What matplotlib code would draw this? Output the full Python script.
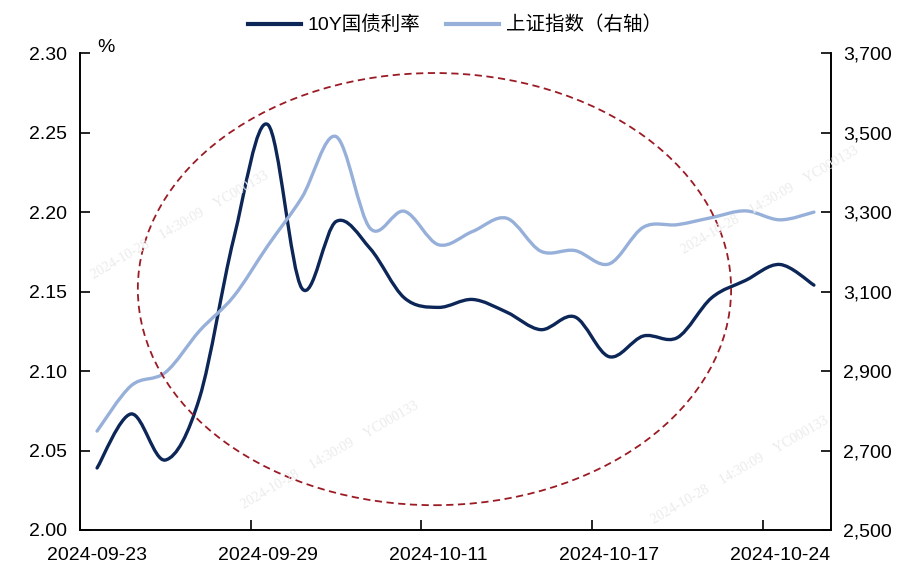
import numpy as np
import matplotlib
matplotlib.use('Agg')
import matplotlib.pyplot as plt
from matplotlib.path import Path
from matplotlib.patches import PathPatch, Ellipse
from matplotlib.lines import Line2D
import matplotlib.ticker as ticker

# trading days 2024-09-23 .. 2024-10-25 (incl. 9/29 and 10/12 make-up days)
dates = ['2024-09-23', '2024-09-24', '2024-09-25', '2024-09-26', '2024-09-27',
         '2024-09-29', '2024-09-30', '2024-10-08', '2024-10-09', '2024-10-10',
         '2024-10-11', '2024-10-12', '2024-10-14', '2024-10-15', '2024-10-16',
         '2024-10-17', '2024-10-18', '2024-10-21', '2024-10-22', '2024-10-23',
         '2024-10-24', '2024-10-25']
bond_10y = [2.039, 2.073, 2.044, 2.083, 2.183, 2.255, 2.152, 2.194, 2.177, 2.146,
            2.140, 2.145, 2.137, 2.126, 2.134, 2.109, 2.122, 2.121, 2.146, 2.157,
            2.167, 2.154]
sh_index = [2748.9, 2863.1, 2896.3, 3000.9, 3087.5, 3215.0, 3336.5, 3489.8, 3258.9,
            3301.9, 3217.7, 3251.0, 3284.3, 3201.3, 3203.0, 3169.4, 3261.6, 3268.1,
            3285.9, 3302.8, 3280.3, 3299.7]
tick_idx = [0, 5, 10, 15, 20]
tick_labels = [dates[i] for i in tick_idx]
legend_labels = ['10Y国债利率', '上证指数（右轴）']

dark = '#0c2658'
light = '#97b0da'
red = '#9b1b25'


def smooth_path(x, y):
    # catmull-rom style smoothing, like excel "smoothed line"
    x = np.asarray(x, float)
    y = np.asarray(y, float)
    px = np.concatenate([[x[0]], x, [x[-1]]])
    py = np.concatenate([[y[0]], y, [y[-1]]])
    verts = [(x[0], y[0])]
    codes = [Path.MOVETO]
    for i in range(1, len(px) - 2):
        c1 = (px[i] + (px[i + 1] - px[i - 1]) / 6, py[i] + (py[i + 1] - py[i - 1]) / 6)
        c2 = (px[i + 1] - (px[i + 2] - px[i]) / 6, py[i + 1] - (py[i + 2] - py[i]) / 6)
        verts += [c1, c2, (px[i + 1], py[i + 1])]
        codes += [Path.CURVE4] * 3
    return Path(verts, codes)


plt.rcParams['font.family'] = ['Liberation Sans', 'Noto Sans CJK SC', 'DejaVu Sans']

fig = plt.figure(figsize=(9.16, 5.87), dpi=100)
ax = fig.add_axes([80 / 916, 1 - 530 / 587, 751 / 916, 477 / 587])
ax2 = ax.twinx()

x = np.arange(len(dates)) + 0.5
ax.add_patch(PathPatch(smooth_path(x, bond_10y), fill=False, edgecolor=dark,
                       lw=2.4, capstyle='round', joinstyle='round'))
ax2.add_patch(PathPatch(smooth_path(x, sh_index), fill=False, edgecolor=light,
                        lw=2.4, capstyle='round', joinstyle='round'))

ax.set_xlim(0, len(dates))
ax.set_ylim(2.0, 2.3)
ax2.set_ylim(2500, 3700)
ax.set_yticks(np.arange(2.0, 2.301, 0.05))
ax.yaxis.set_major_formatter(ticker.FormatStrFormatter('%.2f'))
ax2.set_yticks(np.arange(2500, 3701, 200))
ax2.yaxis.set_major_formatter(ticker.FuncFormatter(lambda v, p: '{:,.0f}'.format(v)))
# tick marks on category boundaries, labels on category centres
ax.set_xticks(tick_idx)
ax.set_xticklabels([''] * len(tick_idx))
ax.set_xticks([i + 0.5 for i in tick_idx], minor=True)
ax.set_xticklabels(tick_labels, minor=True)

for a in (ax, ax2):
    a.spines['top'].set_visible(False)
    for s in a.spines.values():
        s.set_linewidth(1.2)
    a.tick_params(direction='in', length=7, width=1.2, labelsize=14, pad=9)
ax.tick_params(axis='x', which='minor', length=0, labelsize=14, pad=12)

ax2.add_patch(Ellipse((0.472, 0.505), 0.79, 0.906, transform=ax.transAxes,
                      fill=False, edgecolor=red, lw=1.3, ls=(0, (4, 2.5))))

fig.text(97 / 916, 1 - 47 / 587, '%', fontsize=14, va='center', ha='left')

handles = [Line2D([], [], color=dark, lw=3), Line2D([], [], color=light, lw=3)]
fig.legend(handles, legend_labels, loc='center', bbox_to_anchor=(455 / 916, 1 - 25 / 587),
           ncol=2, frameon=False, fontsize=14, handlelength=2.7, handletextpad=0.36,
           columnspacing=1.3)

# faint watermark
wm = '2024-10-28    14:30:09    YC000133'
for px_, py_ in [(180, 225), (330, 455), (770, 200), (740, 470)]:
    fig.text(px_ / 916, 1 - py_ / 587, wm, fontsize=10, color='#ebebeb',
             family='Liberation Serif', rotation=30, ha='center', va='center', zorder=0)

plt.savefig('out.png', dpi=100)
